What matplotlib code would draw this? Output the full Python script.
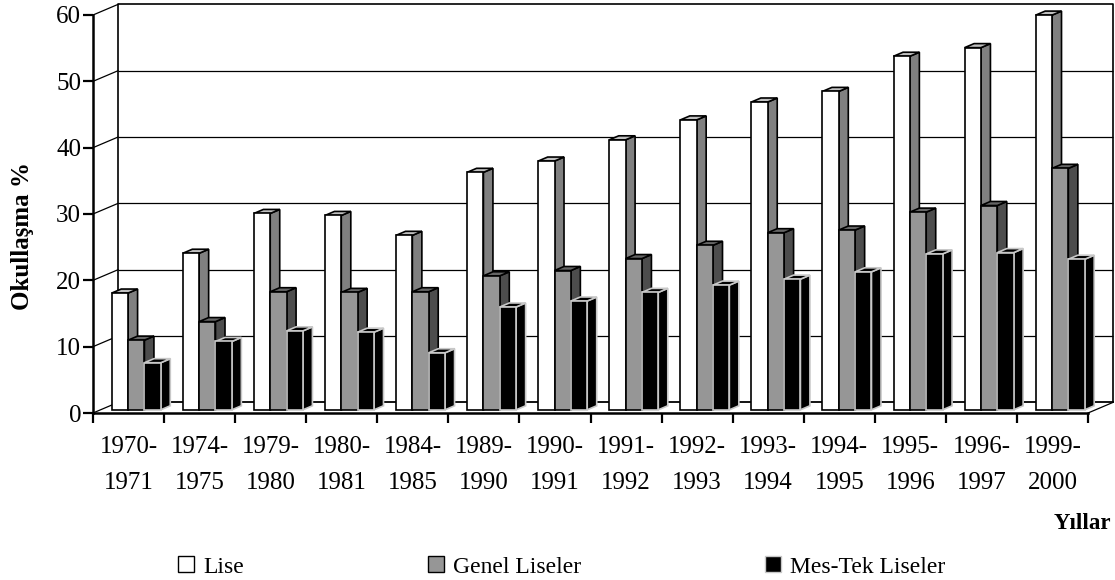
import matplotlib
matplotlib.use("Agg")
import matplotlib.pyplot as plt
from matplotlib.patches import Polygon, Patch

plt.rcParams['font.family'] = ['Liberation Serif', 'DejaVu Serif']

years = ["1970-\n1971", "1974-\n1975", "1979-\n1980", "1980-\n1981", "1984-\n1985",
         "1989-\n1990", "1990-\n1991", "1991-\n1992", "1992-\n1993", "1993-\n1994",
         "1994-\n1995", "1995-\n1996", "1996-\n1997", "1999-\n2000"]
lise = [17.6, 23.6, 29.6, 29.3, 26.3, 35.8, 37.5, 40.7, 43.7, 46.4, 48.0, 53.3, 54.6, 59.5]
genel = [10.5, 13.3, 17.8, 17.7, 17.8, 20.2, 21.0, 22.8, 24.8, 26.7, 27.1, 29.8, 30.8, 36.4]
mestek = [7.1, 10.3, 11.9, 11.7, 8.6, 15.5, 16.4, 17.7, 18.8, 19.7, 20.8, 23.5, 23.7, 22.7]
series_names = ["Lise", "Genel Liseler", "Mes-Tek Liseler"]
y_ticks = [0, 10, 20, 30, 40, 50, 60]

# (front, side, top, edge)
styles = [("#ffffff", "#808080", "#c0c0c0", "#000000"),
          ("#969696", "#4d4d4d", "#666666", "#000000"),
          ("#000000", "#000000", "#000000", "#c8c8c8")]

DX, DY = 0.352, 1.6      # full chart depth in data units
BW = 0.23                # bar width
BAR_D0, BAR_D1 = 0.3, 0.68
LW = 1.6

fig = plt.figure(figsize=(11.15, 5.8), dpi=100)
ax = fig.add_axes([93/1115, (580-413)/580, 995/1115, 398/580])
n = len(years)
ax.set_xlim(0, n)
ax.set_ylim(0, 60)


def P(x, y, d=0.0):
    return (x + d*DX, y + d*DY)


# back wall, grid, floor, side wall
for v in y_ticks[1:-1]:
    ax.plot(*zip(P(0, v, 1), P(n, v, 1)), color="#000000", lw=0.9, clip_on=False, zorder=1, solid_capstyle='butt')
ax.plot(*zip(P(0, 0, 1), P(0, 60, 1), P(n, 60, 1), P(n, 0, 1)), color="#000000", lw=1.2, clip_on=False, zorder=1)
ax.plot(*zip(P(0, 0, 1), P(n, 0, 1)), color="#000000", lw=1.3, clip_on=False, zorder=1)
for v in y_ticks:
    ax.plot(*zip(P(0, v, 0), P(0, v, 1)), color="#000000", lw=0.9, clip_on=False, zorder=1)
ax.plot(*zip(P(n, 0, 0), P(n, 0, 1)), color="#000000", lw=0.9, clip_on=False, zorder=1)


def bar3d(x, w, h, st, z):
    front, side, top, edge = st
    kw = dict(closed=True, edgecolor=edge, linewidth=1.2, clip_on=False, zorder=z, joinstyle='miter')
    ax.add_patch(Polygon([P(x+w, 0, BAR_D0), P(x+w, 0, BAR_D1), P(x+w, h, BAR_D1), P(x+w, h, BAR_D0)], facecolor=side, **kw))
    ax.add_patch(Polygon([P(x, h, BAR_D0), P(x+w, h, BAR_D0), P(x+w, h, BAR_D1), P(x, h, BAR_D1)], facecolor=top, **kw))
    ax.add_patch(Polygon([P(x, 0, BAR_D0), P(x+w, 0, BAR_D0), P(x+w, h, BAR_D0), P(x, h, BAR_D0)], facecolor=front, **kw))


z = 3
for i in range(n):
    for j, vals in enumerate((lise, genel, mestek)):
        bar3d(i + 0.158 + j*BW, BW, vals[i], styles[j], z)
        z += 1

for s in ("top", "right"):
    ax.spines[s].set_visible(False)
for s in ("left", "bottom"):
    ax.spines[s].set_linewidth(LW + 0.2)
    ax.spines[s].set_zorder(200)
ax.patch.set_visible(False)

ax.set_yticks(y_ticks)
ax.set_xticks(range(n + 1))
ax.set_xticklabels([])
ax.set_xticks([i + 0.5 for i in range(n)], minor=True)
ax.set_xticklabels(years, minor=True, linespacing=1.8)
ax.tick_params(axis='x', which='major', length=7, width=LW, direction='out')
ax.tick_params(axis='x', which='minor', length=0, pad=16.5, labelsize=18)
ax.tick_params(axis='y', length=7, width=LW, pad=1.5, labelsize=18)

fig.text(23/1115, 1-236/580, "Okullaşma %", rotation=90, ha='center', va='center', fontsize=18, fontweight='bold')
fig.text(1111/1115, 1-529/580, "Yıllar", ha='right', va='baseline', fontsize=16.5, fontweight='bold')

handles = [Patch(facecolor=st[0], edgecolor="#000000" if k < 2 else st[3], linewidth=1.0) for k, st in enumerate(styles)]
fig.legend(handles, series_names, ncol=3, loc='center', bbox_to_anchor=(561.5/1115, 1-567/580), frameon=False,
           fontsize=17, borderpad=0, handlelength=0.7, handleheight=0.65, handletextpad=0.37, columnspacing=7.78)

fig.savefig("out.png", dpi=100)
